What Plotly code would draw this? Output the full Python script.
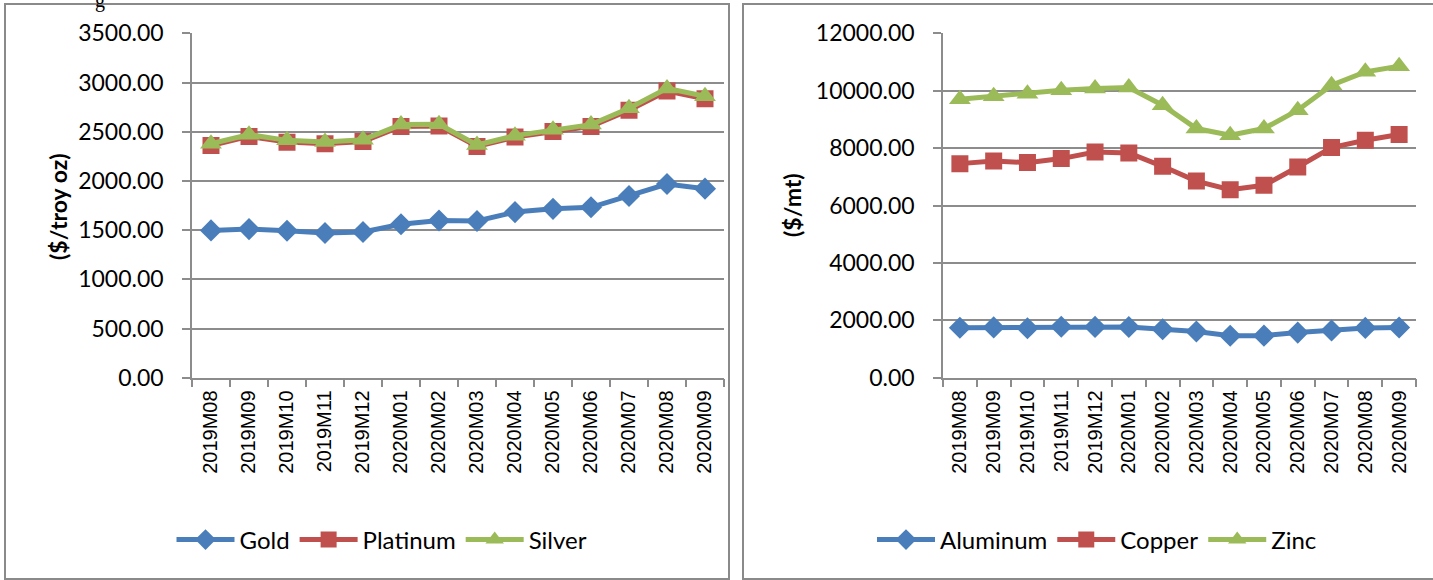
import plotly.graph_objects as go

W, H = 1433, 580

months = ["2019M08", "2019M09", "2019M10", "2019M11", "2019M12", "2020M01", "2020M02",
          "2020M03", "2020M04", "2020M05", "2020M06", "2020M07", "2020M08", "2020M09"]

# Left panel (stacked lines, $/troy oz)
gold = [1497, 1510, 1494, 1470, 1480, 1560, 1597, 1592, 1683, 1716, 1732, 1847, 1968, 1921]
platinum = [863, 942, 900, 908, 921, 994, 960, 758, 762, 787, 822, 870, 945, 914]
silver = [17, 18, 18, 17, 17, 18, 18, 15, 15, 16, 18, 21, 27, 25]

# Right panel (stacked lines, $/mt)
aluminum = [1741, 1752, 1725, 1773, 1770, 1769, 1688, 1611, 1462, 1466, 1571, 1644, 1735, 1749]
copper = [5718, 5798, 5769, 5861, 6094, 6060, 5677, 5241, 5089, 5236, 5770, 6374, 6537, 6722]
zinc = [2240, 2260, 2400, 2383, 2212, 2282, 2129, 1829, 1896, 1979, 1978, 2174, 2384, 2384]

left_ticks = [0, 500, 1000, 1500, 2000, 2500, 3000, 3500]
right_ticks = [0, 2000, 4000, 6000, 8000, 10000, 12000]

BLUE, RED, GREEN = "#4A7EBB", "#C0504D", "#9BBB59"
GRID = "#8C8C8C"
TICKFONT = dict(family="Lato", size=23, color="black")
CATFONT = dict(family="Liberation Sans", size=20, color="black")
LEGFONT = dict(family="Lato", size=24, color="black")


def px_x(p):
    return p / W


def px_y(p):
    return (H - p) / H


fig = go.Figure()

series_left = [("Gold", gold, BLUE, "diamond", 17),
               ("Platinum", platinum, RED, "square", 17),
               ("Silver", silver, GREEN, "triangle-up", 19)]
series_right = [("Aluminum", aluminum, BLUE, "diamond", 17),
                ("Copper", copper, RED, "square", 17),
                ("Zinc", zinc, GREEN, "triangle-up", 19)]

for name, vals, col, sym, sz in series_left:
    fig.add_trace(go.Scatter(x=months, y=vals, name=name, mode="lines+markers",
                             stackgroup="left", fill="none",
                             line=dict(color=col, width=5),
                             marker=dict(symbol=sym, size=sz, color=col),
                             xaxis="x", yaxis="y", legend="legend"))
for name, vals, col, sym, sz in series_right:
    fig.add_trace(go.Scatter(x=months, y=vals, name=name, mode="lines+markers",
                             stackgroup="right", fill="none",
                             line=dict(color=col, width=5),
                             marker=dict(symbol=sym, size=sz, color=col),
                             xaxis="x2", yaxis="y2", legend="legend2"))

ydom = [px_y(377.7), px_y(33.3)]
xrange = [-0.5, len(months) - 0.5]

xcommon = dict(type="category", range=xrange, showline=True, linecolor=GRID, linewidth=1.5,
               ticks="outside", ticklen=8, tickcolor=GRID, tickwidth=1.5,
               tickson="boundaries", showgrid=False, tickangle=-90,
               tickfont=CATFONT, fixedrange=True, ticklabelstandoff=3,
               automargin=False)
ycommon = dict(showline=True, linecolor=GRID, linewidth=1.5, ticks="outside",
               ticklen=8, tickcolor=GRID, tickwidth=1.5, showgrid=True,
               gridcolor=GRID, gridwidth=1.5, zeroline=False, tickformat=".2f",
               tickfont=TICKFONT, fixedrange=True, ticklabelstandoff=14,
               automargin=False)

fig.update_layout(
    width=W, height=H, autosize=False,
    margin=dict(l=0, r=0, t=0, b=0, autoexpand=False),
    paper_bgcolor="white", plot_bgcolor="white",
    title=dict(text="g", x=px_x(100), xanchor="center", y=1.0, yanchor="middle",
               font=dict(family="Liberation Serif", size=20, color="black")),
    xaxis=dict(domain=[px_x(192), px_x(724)], anchor="y", **xcommon),
    yaxis=dict(domain=ydom, anchor="x", range=[0, 3500], tickvals=left_ticks, **ycommon),
    xaxis2=dict(domain=[px_x(943), px_x(1416)], anchor="y2", **xcommon),
    yaxis2=dict(domain=ydom, anchor="x2", range=[0, 12000], tickvals=right_ticks, **ycommon),
    legend=dict(orientation="h", x=px_x(382), xanchor="center", y=px_y(540), yanchor="middle",
                font=LEGFONT, itemwidth=58, bgcolor="rgba(0,0,0,0)"),
    legend2=dict(orientation="h", x=px_x(1097), xanchor="center", y=px_y(540), yanchor="middle",
                 font=LEGFONT, itemwidth=58, bgcolor="rgba(0,0,0,0)"),
    showlegend=True,
)

# panel borders
fig.add_shape(type="rect", xref="paper", yref="paper",
              x0=px_x(5), x1=px_x(729), y0=px_y(579), y1=px_y(4),
              line=dict(color="#8A8A8A", width=2), fillcolor="rgba(0,0,0,0)", layer="below")
fig.add_shape(type="rect", xref="paper", yref="paper",
              x0=px_x(743), x1=px_x(1445), y0=px_y(579), y1=px_y(4),
              line=dict(color="#8A8A8A", width=2), fillcolor="rgba(0,0,0,0)", layer="below")

# axis titles
fig.add_annotation(text="<b>($/troy oz)</b>", xref="paper", yref="paper",
                   x=px_x(58), y=px_y(207), xanchor="center", yanchor="middle",
                   textangle=-90, showarrow=False,
                   font=dict(family="Lato", size=23, color="black"))
fig.add_annotation(text="<b>($/mt)</b>", xref="paper", yref="paper",
                   x=px_x(792), y=px_y(205), xanchor="center", yanchor="middle",
                   textangle=-90, showarrow=False,
                   font=dict(family="Lato", size=23, color="black"))

fig.write_html("out.html", config={"displayModeBar": False},
               post_script="document.body.style.margin='0px';document.body.style.overflow='hidden';")
